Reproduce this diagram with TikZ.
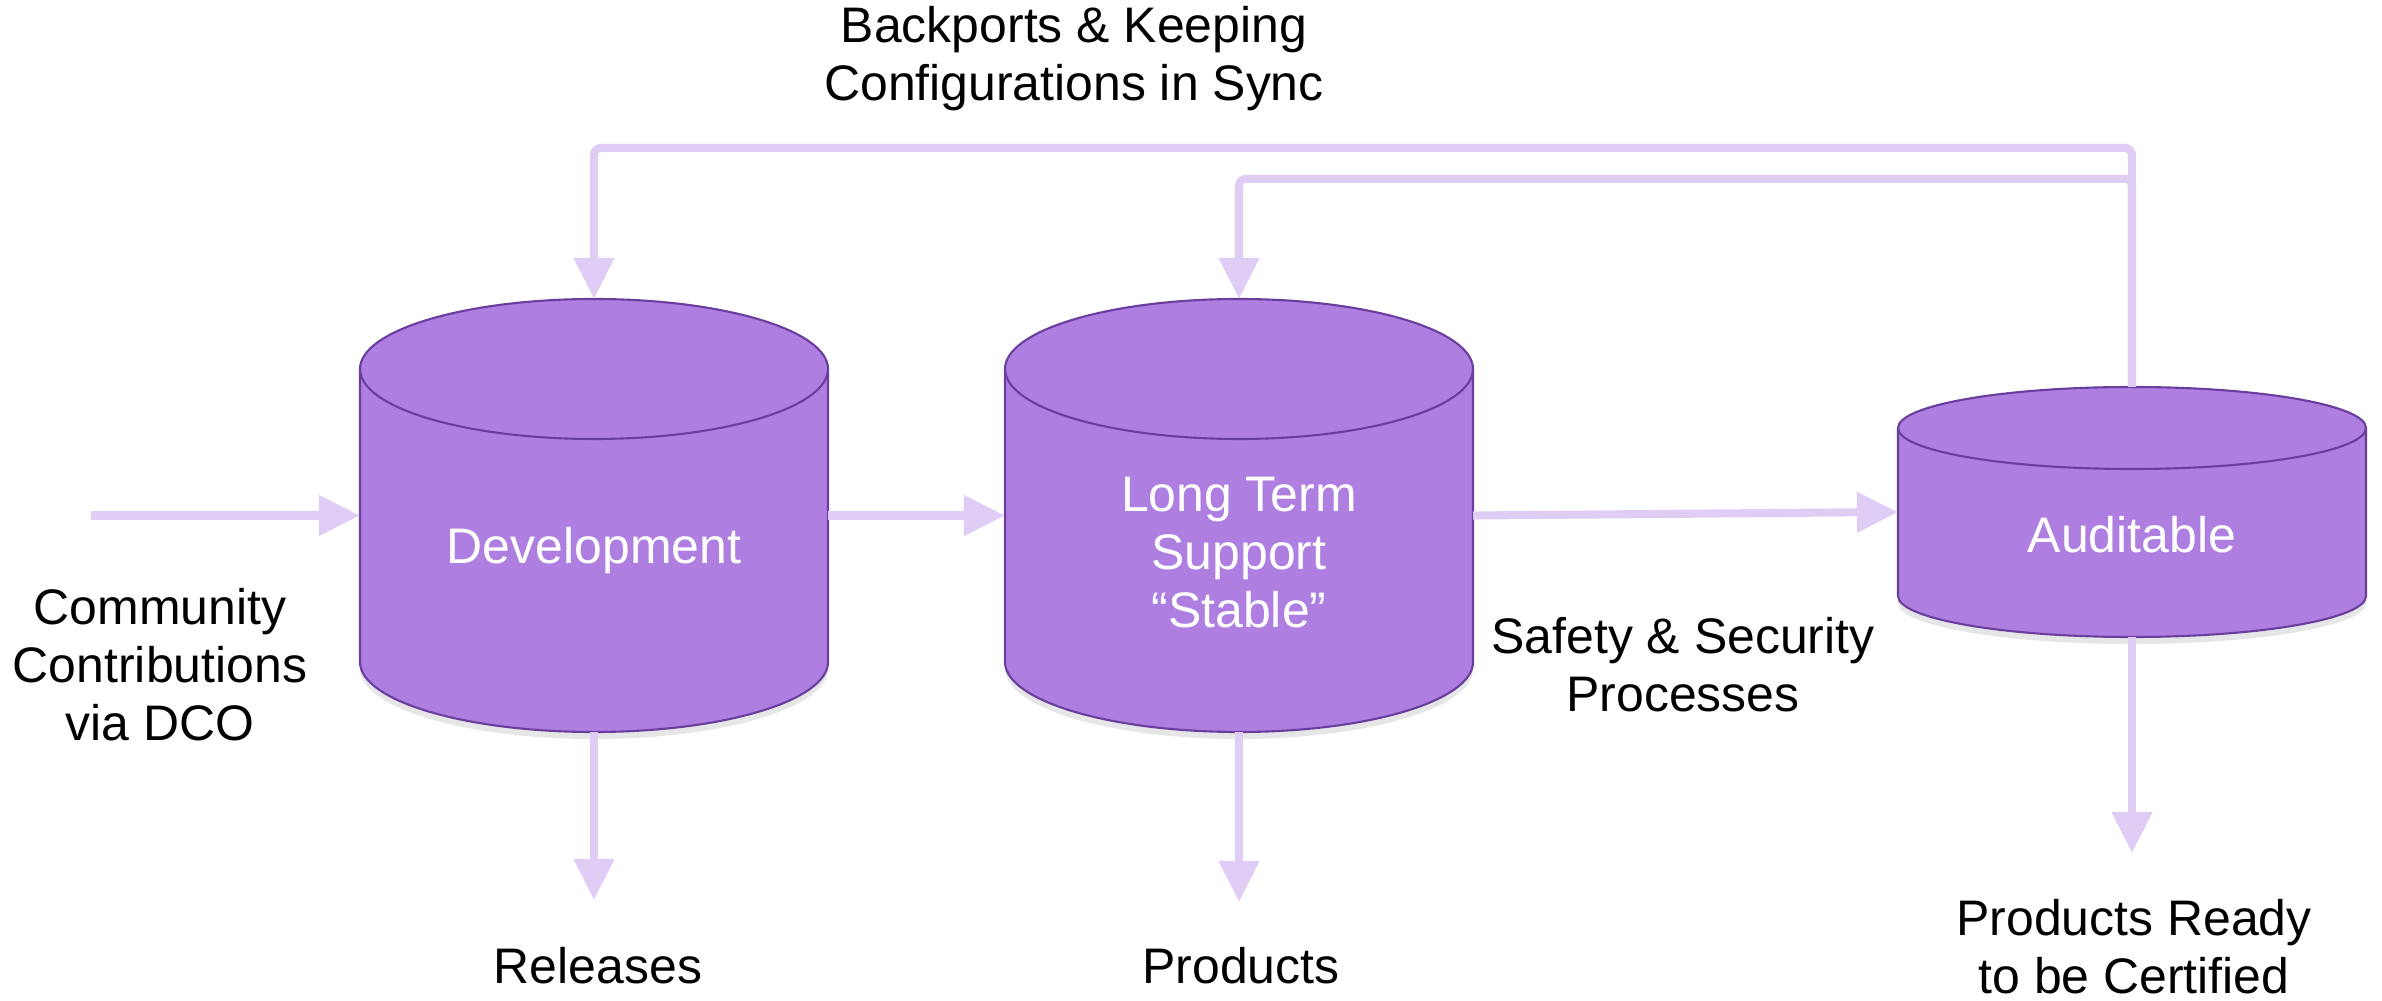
\documentclass[tikz,border=0pt]{standalone}
\usepackage{fontspec}
\setmainfont{Liberation Sans}
\usetikzlibrary{arrows.meta,shadows}

\definecolor{fialova}{HTML}{AE7FE0}
\definecolor{okraj}{HTML}{6A3E9E}
\definecolor{svetla}{HTML}{E0CDF5}

\tikzstyle{every node}=[font=\fontsize{14.2pt}{16.5pt}\selectfont]
\tikzstyle{plast}=[draw=okraj, line width=0.6pt, fill=fialova,
	drop shadow={opacity=0.2, shadow xshift=0pt, shadow yshift=-2pt}]
\tikzstyle{blok}=[rectangle, minimum width=4.68cm, inner sep=0pt, outer sep=0pt]
\tikzstyle{popis}=[align=center, text=white]
\tikzstyle{napis}=[align=center, text=black]
\tikzstyle{sipka}=[draw=svetla, line width=2.3pt, -{Triangle[width=3.9mm,length=4.1mm]},
	preaction={draw=black!60, opacity=0.35, transform canvas={xshift=0.5pt,yshift=-0.6pt}}]

% válec: střed x, horní okraj, dolní okraj, poloosa víka
\newcommand{\valec}[4]{%
	\path[plast] (#1-234,#2-#4) -- (#1-234,#3+#4) arc (180:360:234 and #4)
		-- (#1+234,#2-#4) arc (0:180:234 and #4) -- cycle;
	\draw[okraj, line width=0.6pt] (#1-234,#2-#4) arc (180:360:234 and #4);}

\begin{document}
\begin{tikzpicture}[x=0.01cm, y=0.01cm]
	\useasboundingbox (0,0) rectangle (2382,1000);

	% Válce
	\valec{594}{701}{268}{70}
	\valec{1239}{701}{268}{70}
	\valec{2132}{613}{363}{41}

	\node[blok, minimum height=4.33cm] (dev) at (594,484.5) {};
	\node[blok, minimum height=4.33cm] (lts) at (1239,484.5) {};
	\node[blok, minimum height=2.5cm] (aud) at (2132,488) {};

	% Popisky ve válcích
	\node[popis] (devtext) at (594,449) {Development};
	\node[popis] (ltstext) at (1239,447) {Long Term\\Support\\“Stable”};
	\node[popis] (audtext) at (2132,465) {Auditable};

	% Popisky okolo
	\node[napis] (backports) at (1074,941) {Backports \& Keeping\\Configurations in Sync};
	\node[napis] (community) at (160,335) {Community\\Contributions\\via DCO};
	\node[napis] (safety) at (1683,335) {Safety \& Security\\Processes};
	\node[napis] (releases) at (598,34) {Releases};
	\node[napis] (products) at (1241,34) {Products};
	\node[napis] (certified) at (2134,53) {Products Ready\\to be Certified};

	% Konce šipek
	\coordinate (vstup) at (91,484.5);
	\coordinate (relkonec) at (594,100);
	\coordinate (prodkonec) at (1239,98);
	\coordinate (certkonec) at (2132,147);

	% Šipky
	\draw[sipka] (vstup) -- (dev.west);
	\draw[sipka] (dev.east) -- (lts.west);
	\draw[sipka] (lts.east) -- (aud.west);
	\draw[sipka] (dev.south) -- (relkonec);
	\draw[sipka] (lts.south) -- (prodkonec);
	\draw[sipka] (aud.south) -- (certkonec);

	% Zpětné vazby
	\draw[sipka, rounded corners=2pt] (aud.north) -- ++(0,239) -| (dev.north);
	\draw[sipka, rounded corners=2pt] (aud.north) -- ++(0,208) -| (lts.north);
\end{tikzpicture}
\end{document}
